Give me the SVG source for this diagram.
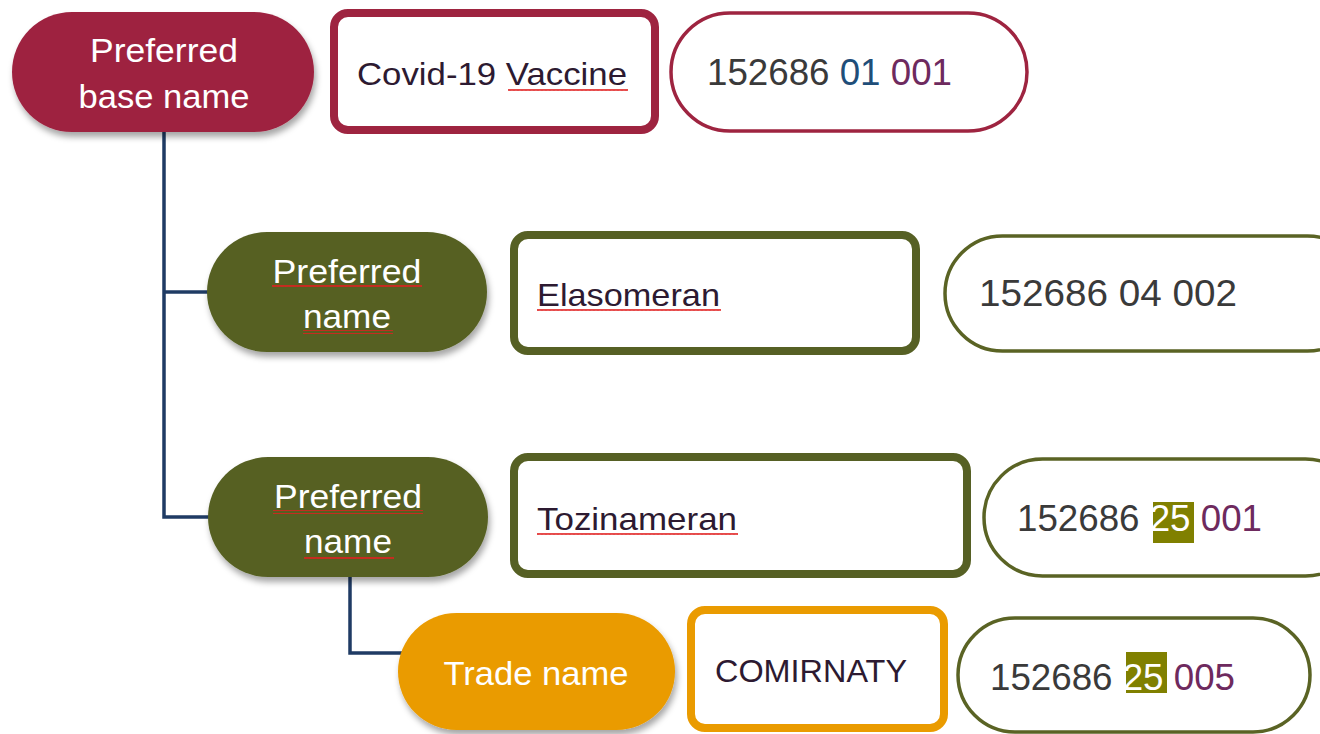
<svg xmlns="http://www.w3.org/2000/svg" width="1320" height="734" viewBox="0 0 1320 734">
<defs>
<filter id="sh" x="-10%" y="-10%" width="125%" height="135%">
<feDropShadow dx="2" dy="5" stdDeviation="3" flood-color="#000" flood-opacity="0.35"/>
</filter>
<pattern id="sq" width="4" height="4" patternUnits="userSpaceOnUse">
<polyline points="0,3 1,1 2,3 3,1 4,3" fill="none" stroke="#e0201f" stroke-width="1"/>
</pattern>
<style>
.lbl{font-family:"Liberation Sans",Arial,sans-serif;fill:#fff;font-size:34px}
.box{font-family:"Liberation Sans",Arial,sans-serif;fill:#2d1a31;font-size:32px}
.num{font-family:"Liberation Sans",Arial,sans-serif;fill:#3a3a3a;font-size:36.5px}
.crimF{fill:#9e2440}
.oliveF{fill:#566024}
.orangeF{fill:#ea9b00}
.frame{fill:#fff;stroke-width:8}
.pillO{fill:#fff;stroke-width:3.5}
.conn{fill:none;stroke:#1f3b64;stroke-width:3.5}
.sqg{fill:url(#sq)}
.blue{fill:#1f4e79}
.purp{fill:#6e2a5e}
.hl{fill:#808000}
.wt{fill:#fff}
</style>
</defs>
<rect width="1320" height="734" fill="#fff"/>

<g id="connectors">
<polyline class="conn" points="164,130 164,517 210,517"/>
<line class="conn" x1="164" y1="292" x2="210" y2="292"/>
<polyline class="conn" points="350,575 350,653 402,653"/>
</g>

<g id="n-base">
<rect class="crimF" x="12" y="12" width="302" height="120" rx="60" filter="url(#sh)"/>
<text class="lbl" x="164" y="62" text-anchor="middle" textLength="148" lengthAdjust="spacingAndGlyphs">Preferred</text>
<text class="lbl" x="164" y="108" text-anchor="middle" textLength="171" lengthAdjust="spacingAndGlyphs">base name</text>
</g>
<g id="n-covid">
<rect class="frame" x="334" y="13" width="321" height="117" rx="14" stroke="#9e2440"/>
<text class="box" x="357" y="85" textLength="270" lengthAdjust="spacingAndGlyphs">Covid-19 Vaccine</text>
<rect class="sqg" x="508" y="88" width="120" height="4"/>
</g>
<g id="n-code1">
<rect class="pillO" x="671" y="13" width="356" height="118" rx="59" stroke="#9e2440"/>
<text class="num" x="707" y="85" textLength="245" lengthAdjust="spacingAndGlyphs">152686 <tspan class="blue">01</tspan> <tspan class="purp">001</tspan></text>
</g>

<g id="n-pref1">
<rect class="oliveF" x="207" y="232" width="280" height="120" rx="60" filter="url(#sh)"/>
<text class="lbl" x="347" y="283" text-anchor="middle" textLength="149" lengthAdjust="spacingAndGlyphs">Preferred</text>
<text class="lbl" x="347" y="328" text-anchor="middle" textLength="88" lengthAdjust="spacingAndGlyphs">name</text>
<rect class="sqg" x="272" y="285" width="150" height="4"/>
<rect class="sqg" x="303" y="330" width="90" height="4"/>
</g>
<g id="n-elaso">
<rect class="frame" x="514" y="235" width="402" height="116" rx="14" stroke="#566024"/>
<text class="box" x="537" y="306" textLength="183" lengthAdjust="spacingAndGlyphs">Elasomeran</text>
<rect class="sqg" x="537" y="309" width="184" height="4"/>
</g>
<g id="n-code2">
<rect class="pillO" x="945" y="236" width="420" height="115" rx="57.5" stroke="#5a6324"/>
<text class="num" x="979" y="306" textLength="258" lengthAdjust="spacingAndGlyphs">152686 04 002</text>
</g>

<g id="n-pref2">
<rect class="oliveF" x="208" y="457" width="280" height="120" rx="60" filter="url(#sh)"/>
<text class="lbl" x="348" y="508" text-anchor="middle" textLength="148" lengthAdjust="spacingAndGlyphs">Preferred</text>
<text class="lbl" x="348" y="553" text-anchor="middle" textLength="88" lengthAdjust="spacingAndGlyphs">name</text>
<rect class="sqg" x="273" y="510" width="150" height="4"/>
<rect class="sqg" x="304" y="555" width="90" height="4"/>
</g>
<g id="n-tozi">
<rect class="frame" x="514" y="457" width="453" height="117" rx="14" stroke="#566024"/>
<text class="box" x="537" y="530" textLength="200" lengthAdjust="spacingAndGlyphs">Tozinameran</text>
<rect class="sqg" x="537" y="533" width="201" height="4"/>
</g>
<g id="n-code3">
<rect class="pillO" x="984" y="459" width="380" height="117" rx="58.5" stroke="#5a6324"/>
<rect class="hl" x="1153" y="502" width="41" height="41"/>
<text class="num" x="1017" y="531" textLength="245" lengthAdjust="spacingAndGlyphs">152686 <tspan class="wt">25</tspan> <tspan class="purp">001</tspan></text>
</g>

<g id="n-trade">
<rect class="orangeF" x="398" y="613" width="277" height="117" rx="58.5" filter="url(#sh)"/>
<text class="lbl" x="536" y="685" text-anchor="middle" textLength="185" lengthAdjust="spacingAndGlyphs">Trade name</text>
</g>
<g id="n-comir">
<rect class="frame" x="691" y="610" width="253" height="118" rx="14" stroke="#ea9b00"/>
<text class="box" x="715" y="682" textLength="192" lengthAdjust="spacingAndGlyphs">COMIRNATY</text>
</g>
<g id="n-code4">
<rect class="pillO" x="958" y="618" width="352" height="114" rx="57" stroke="#5a6324"/>
<rect class="hl" x="1126" y="652" width="41" height="41"/>
<text class="num" x="990" y="690" textLength="245" lengthAdjust="spacingAndGlyphs">152686 <tspan class="wt">25</tspan> <tspan class="purp">005</tspan></text>
</g>
</svg>
